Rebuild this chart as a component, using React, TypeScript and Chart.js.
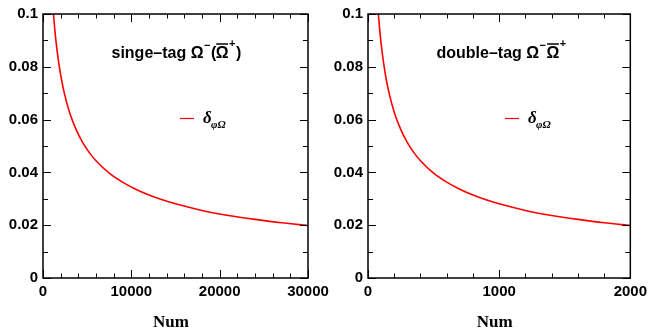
import React, { useEffect, useRef } from "react";
import { Chart, registerables } from "chart.js";

Chart.register(...registerables);

// ---- data ----
const leftN = [1100, 1200, 1350, 1500, 1800, 2100, 2400, 3000, 3750, 4500, 5250, 6000, 7500, 9000, 10500, 12000, 13500, 15000, 18000, 21000, 24000, 27000, 30000];
const leftDelta = [0.1037, 0.0993, 0.0936, 0.0888, 0.0811, 0.0751, 0.0702, 0.0628, 0.0562, 0.0513, 0.0475, 0.0444, 0.0397, 0.0363, 0.0336, 0.0314, 0.0296, 0.0281, 0.0256, 0.0237, 0.0222, 0.0209, 0.0199];

const rightN = [75, 80, 90, 100, 120, 140, 160, 200, 250, 300, 350, 400, 500, 600, 700, 800, 900, 1000, 1200, 1400, 1600, 1800, 2000];
const rightDelta = [0.1025, 0.0993, 0.0936, 0.0888, 0.0811, 0.075, 0.0702, 0.0628, 0.0562, 0.0513, 0.0475, 0.0444, 0.0397, 0.0363, 0.0336, 0.0314, 0.0296, 0.0281, 0.0256, 0.0237, 0.0222, 0.0209, 0.0199];

const leftXTicks = [0, 10000, 20000, 30000];
const rightXTicks = [0, 1000, 2000];
const yTicks = [0, 0.02, 0.04, 0.06, 0.08, 0.1];
const yTickLabels = ["0", "0.02", "0.04", "0.06", "0.08", "0.1"];

const xTitle = "Num";
const leftTitle = "singe\u2013tag ";
const rightTitle = "double\u2013tag ";
const legendLabel = "\u03b4";
const legendSub = "\u03c6\u03a9";

const W = 652;
const H = 335;

type PanelCfg = {
  N: number[];
  D: number[];
  xTicks: number[];
  xMinor: number;
  xMax: number;
  areaLeft: number;
  areaRight: number;
  single: boolean;
};

function drawAnnotations(chart: any, cfg: PanelCfg) {
  const { ctx, chartArea: a, scales } = chart;
  const x = scales.x;
  const y = scales.y;
  ctx.save();
  ctx.strokeStyle = "#000";
  ctx.lineWidth = 1;
  const seg = (x1: number, y1: number, x2: number, y2: number) => {
    ctx.beginPath();
    ctx.moveTo(x1, y1);
    ctx.lineTo(x2, y2);
    ctx.stroke();
  };
  const xMajor = cfg.xTicks[1] - cfg.xTicks[0];
  const nx = Math.round(cfg.xMax / cfg.xMinor);
  for (let i = 0; i <= nx; i++) {
    const v = i * cfg.xMinor;
    const px = Math.round(x.getPixelForValue(v)) + 0.5;
    const major = Math.abs(v / xMajor - Math.round(v / xMajor)) < 1e-6;
    const len = major ? 8 : 4.5;
    seg(px, a.bottom, px, a.bottom - len);
    seg(px, a.top, px, a.top + len);
  }
  for (let i = 0; i <= 10; i++) {
    const v = i * 0.01;
    const py = Math.round(y.getPixelForValue(v)) + 0.5;
    const len = i % 2 === 0 ? 8 : 5;
    seg(a.left, py, a.left + len, py);
    seg(a.right, py, a.right - len, py);
  }
  ctx.lineWidth = 1.5;
  ctx.strokeRect(a.left, a.top, a.right - a.left, a.bottom - a.top);

  // axis title
  ctx.fillStyle = "#000";
  ctx.font = 'bold 17px "Liberation Serif"';
  ctx.textAlign = "center";
  ctx.textBaseline = "alphabetic";
  ctx.fillText(xTitle, a.left + (a.right - a.left) * 0.483, 327);

  // panel title
  ctx.textAlign = "left";
  const base = 58;
  let tx = a.left + 68.5;
  const main = 'bold 16px "Liberation Sans"';
  const sup = 'bold 11px "Liberation Sans"';
  ctx.font = main;
  const t = cfg.single ? leftTitle : rightTitle;
  ctx.fillText(t, tx, base);
  tx += ctx.measureText(t).width;
  ctx.fillText("\u03a9", tx, base);
  tx += ctx.measureText("\u03a9").width;
  ctx.font = sup;
  ctx.fillText("\u2212", tx + 0.5, base - 9);
  tx += ctx.measureText("\u2212").width + 1;
  ctx.font = main;
  if (cfg.single) {
    ctx.fillText("(", tx, base);
    tx += ctx.measureText("(").width - 0.5;
  }
  const ow = ctx.measureText("\u03a9").width;
  ctx.fillText("\u03a9", tx, base);
  ctx.lineWidth = 1.5;
  seg(tx + 0.5, base - 14, tx + ow - 0.5, base - 14);
  tx += ow + 0.5;
  ctx.font = sup;
  ctx.fillText("+", tx, base - 11);
  tx += ctx.measureText("+").width + 0.5;
  if (cfg.single) {
    ctx.font = main;
    ctx.fillText(")", tx, base);
  }

  // legend
  ctx.strokeStyle = "#ff0000";
  ctx.lineWidth = 1.2;
  seg(a.left + 137, 118.5, a.left + 151, 118.5);
  ctx.fillStyle = "#000";
  ctx.font = 'italic bold 17px "Liberation Serif"';
  ctx.fillText(legendLabel, a.left + 160, 123);
  ctx.font = 'italic bold 11px "Liberation Serif"';
  ctx.fillText(legendSub, a.left + 168, 127.5);
  ctx.restore();
}

function makeChart(canvas: HTMLCanvasElement, cfg: PanelCfg) {
  return new Chart(canvas, {
    type: "line",
    data: {
      datasets: [
        {
          data: cfg.N.map((n, i) => ({ x: n, y: cfg.D[i] })),
          borderColor: "#ff0000",
          borderWidth: 1.6,
          pointRadius: 0,
          cubicInterpolationMode: "monotone",
          fill: false,
        },
      ],
    },
    options: {
      animation: false,
      responsive: false,
      devicePixelRatio: 1,
      layout: {
        padding: { left: 0, top: 13, right: W - cfg.areaRight, bottom: 0 },
      },
      plugins: {
        legend: { display: false },
        title: { display: false },
        tooltip: { enabled: false },
      },
      scales: {
        x: {
          type: "linear",
          min: 0,
          max: cfg.xMax,
          grid: { display: false, drawTicks: false },
          border: { display: false },
          afterBuildTicks: (s: any) => {
            s.ticks = cfg.xTicks.map((v) => ({ value: v }));
          },
          afterFit: (s: any) => {
            s.height = H - 278;
          },
          ticks: {
            padding: 5,
            color: "#000",
            maxRotation: 0,
            autoSkip: false,
            font: { family: '"Liberation Sans"', weight: "bold", size: 15 },
            callback: (v: any) => String(v),
          },
        },
        y: {
          type: "linear",
          min: 0,
          max: 0.1,
          grid: { display: false, drawTicks: false },
          border: { display: false },
          afterBuildTicks: (s: any) => {
            s.ticks = yTicks.map((v) => ({ value: v }));
          },
          afterFit: (s: any) => {
            s.width = cfg.areaLeft;
          },
          ticks: {
            padding: 5,
            color: "#000",
            autoSkip: false,
            font: { family: '"Liberation Sans"', weight: "bold", size: 15 },
            callback: (_v: any, i: number) => yTickLabels[i],
          },
        },
      },
    },
    plugins: [
      {
        id: "rootFrame",
        afterDatasetsDraw: (chart: any) => drawAnnotations(chart, cfg),
      },
    ],
  } as any);
}

export default function App() {
  const leftRef = useRef<HTMLCanvasElement | null>(null);
  const rightRef = useRef<HTMLCanvasElement | null>(null);

  useEffect(() => {
    const c1 = makeChart(leftRef.current!, {
      N: leftN,
      D: leftDelta,
      xTicks: leftXTicks,
      xMinor: 2000,
      xMax: 30000,
      areaLeft: 43,
      areaRight: 308,
      single: true,
    });
    const c2 = makeChart(rightRef.current!, {
      N: rightN,
      D: rightDelta,
      xTicks: rightXTicks,
      xMinor: 200,
      xMax: 2000,
      areaLeft: 368,
      areaRight: 633,
      single: false,
    });
    return () => {
      c1.destroy();
      c2.destroy();
    };
  }, []);

  const cs: React.CSSProperties = {
    position: "absolute",
    left: 0,
    top: 0,
    width: W,
    height: H,
  };
  return (
    <div style={{ position: "absolute", left: 0, top: 0, width: W, height: H, background: "#fff" }}>
      <canvas ref={leftRef} width={W} height={H} style={cs} />
      <canvas ref={rightRef} width={W} height={H} style={cs} />
    </div>
  );
}
